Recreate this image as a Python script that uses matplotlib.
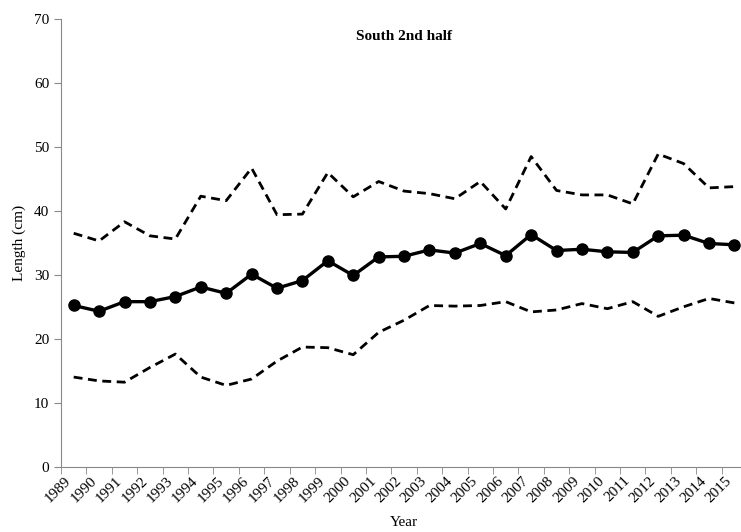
import matplotlib.pyplot as plt
import numpy as np

years = list(range(1989, 2016))
mean_len = [25.2, 24.3, 25.8, 25.8, 26.6, 28.1, 27.1, 30.1, 27.9, 29.1, 32.2, 29.9, 32.8, 32.9,
            33.9, 33.4, 34.9, 33.0, 36.3, 33.8, 34.0, 33.6, 33.5, 36.1, 36.2, 34.9, 34.7]
upper_len = [36.5, 35.3, 38.3, 36.1, 35.6, 42.3, 41.6, 46.7, 39.4, 39.5, 46.0, 42.2, 44.6, 43.1,
             42.7, 41.9, 44.6, 40.3, 48.5, 43.2, 42.5, 42.5, 41.1, 48.9, 47.4, 43.6, 43.8]
lower_len = [14.0, 13.4, 13.2, 15.5, 17.6, 14.0, 12.7, 13.7, 16.5, 18.7, 18.6, 17.5, 21.0, 22.9,
             25.2, 25.1, 25.2, 25.8, 24.2, 24.5, 25.5, 24.7, 25.8, 23.5, 25.0, 26.3, 25.6]

plt.rcParams['font.family'] = ['Liberation Serif', 'DejaVu Serif']

fig = plt.figure(figsize=(7.41, 5.32), dpi=100)
ax = fig.add_axes([0.0823, 0.123, 0.926, 0.841])

x = np.arange(len(years))
ax.plot(x, upper_len, color='black', lw=2.0, ls=(0, (3.2, 2.0)))
ax.plot(x, lower_len, color='black', lw=2.0, ls=(0, (3.2, 2.0)))
ax.plot(x, mean_len, color='black', lw=2.4, marker='o', markersize=8)

ax.set_xlim(-0.5, len(years) - 0.5)
ax.set_ylim(0, 70)
ax.set_yticks(range(0, 71, 10))

ax.set_xticks(x)
ax.set_xticklabels([str(y) for y in years], rotation=45, ha='right', va='bottom',
                   rotation_mode='anchor')
ax.set_xticks(np.arange(-0.5, len(years)), minor=True)
ax.tick_params(axis='x', which='major', length=0, pad=12, labelsize=11)
ax.tick_params(axis='x', which='minor', length=5, color='#888888', direction='out')
ax.tick_params(axis='y', length=5, color='#888888', direction='out', labelsize=11)

for s in ['top', 'right']:
    ax.spines[s].set_visible(False)
for s in ['left', 'bottom']:
    ax.spines[s].set_color('#888888')

ax.set_ylabel('Length (cm)', fontsize=11, labelpad=6)
ax.set_xlabel('Year', fontsize=11, labelpad=8)
ax.text(0.5, 0.975, 'South 2nd half', transform=ax.transAxes, ha='center', va='top',
        fontsize=11, fontweight='bold')

fig.savefig('out.png', dpi=100)
